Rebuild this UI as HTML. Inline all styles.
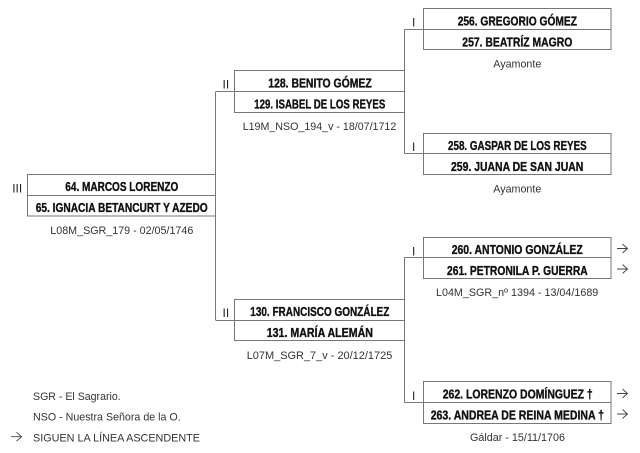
<!DOCTYPE html>
<html><head><meta charset="utf-8"><style>
html,body{margin:0;padding:0;background:#fff;width:640px;height:453px;overflow:hidden}
svg{display:block}
.b{font-family:"Liberation Sans",sans-serif;font-weight:bold;font-size:12.5px;fill:#111;stroke:#111;stroke-width:.35}
.r{font-family:"Liberation Sans",sans-serif;font-size:11px;fill:#333}
.n{stroke:#444;stroke-width:1.1;fill:none}
.l{stroke:#777;stroke-width:1;fill:none}
.a{stroke:#444;stroke-width:.9;fill:none}
</style></head><body>
<svg width="640" height="453" viewBox="0 0 640 453" xmlns="http://www.w3.org/2000/svg">
<g class="l">
<path d="M215.5 174.5H27.5V216H215.5M27.5 195.5H215.5"/>
<path d="M215.5 91.5V320.5"/>
<path d="M404.5 70.5H234.5V112.5H404.5M216 91.5H404.5"/>
<path d="M404.5 299.500H234.5V340.5H404.5M216 320.5H404.5"/>
<path d="M404.5 29.5V153.5M404.5 257.5V402.5"/>
<rect x="423.5" y="8.5" width="187.5" height="41"/><path d="M404.5 29.5H611"/>
<rect x="423.5" y="133.5" width="187.5" height="41"/><path d="M404.5 153.5H611"/>
<rect x="423.5" y="237.5" width="187.5" height="41"/><path d="M404.5 257.5H611"/>
<rect x="423.5" y="381.5" width="187.5" height="42"/><path d="M404.5 402.5H611"/>
</g>
<g class="b">
<text x="65.3" y="191" textLength="113" lengthAdjust="spacingAndGlyphs">64. MARCOS LORENZO</text>
<text x="35.7" y="212" textLength="172" lengthAdjust="spacingAndGlyphs">65. IGNACIA BETANCURT Y AZEDO</text>
<text x="268.3" y="87.5" textLength="103.4" lengthAdjust="spacingAndGlyphs">128. BENITO GÓMEZ</text>
<text x="254.3" y="108.5" textLength="131" lengthAdjust="spacingAndGlyphs">129. ISABEL DE LOS REYES</text>
<text x="250.3" y="316" textLength="139" lengthAdjust="spacingAndGlyphs">130. FRANCISCO GONZÁLEZ</text>
<text x="266.7" y="337" textLength="106.3" lengthAdjust="spacingAndGlyphs">131. MARÍA ALEMÁN</text>
<text x="457.7" y="25.3" textLength="119.3" lengthAdjust="spacingAndGlyphs">256. GREGORIO GÓMEZ</text>
<text x="462.3" y="46.3" textLength="110" lengthAdjust="spacingAndGlyphs">257. BEATRÍZ MAGRO</text>
<text x="448" y="150" textLength="138.7" lengthAdjust="spacingAndGlyphs">258. GASPAR DE LOS REYES</text>
<text x="451" y="171" textLength="132.3" lengthAdjust="spacingAndGlyphs">259. JUANA DE SAN JUAN</text>
<text x="451.7" y="254" textLength="131" lengthAdjust="spacingAndGlyphs">260. ANTONIO GONZÁLEZ</text>
<text x="447" y="275" textLength="140.7" lengthAdjust="spacingAndGlyphs">261. PETRONILA P. GUERRA</text>
<text x="442.7" y="398.7" textLength="150" lengthAdjust="spacingAndGlyphs">262. LORENZO DOMÍNGUEZ †</text>
<text x="430.7" y="419.3" textLength="173.3" lengthAdjust="spacingAndGlyphs">263. ANDREA DE REINA MEDINA †</text>
</g>
<g class="r">
<text x="50.3" y="234" textLength="143" lengthAdjust="spacingAndGlyphs">L08M_SGR_179 - 02/05/1746</text>
<text x="242.7" y="130" textLength="153.6" lengthAdjust="spacingAndGlyphs">L19M_NSO_194_v - 18/07/1712</text>
<text x="246.7" y="359" textLength="145.6" lengthAdjust="spacingAndGlyphs">L07M_SGR_7_v -  20/12/1725</text>
<text x="493.3" y="67.7" textLength="48" lengthAdjust="spacingAndGlyphs">Ayamonte</text>
<text x="493.3" y="192.3" textLength="48" lengthAdjust="spacingAndGlyphs">Ayamonte</text>
<text x="436" y="296" textLength="162.3" lengthAdjust="spacingAndGlyphs">L04M_SGR_nº 1394 - 13/04/1689</text>
<text x="470" y="441" textLength="95" lengthAdjust="spacingAndGlyphs">Gáldar - 15/11/1706</text>
<text x="33" y="400" textLength="87.7" lengthAdjust="spacingAndGlyphs">SGR - El Sagrario.</text>
<text x="33" y="420.7" textLength="147.7" lengthAdjust="spacingAndGlyphs">NSO - Nuestra Señora de la O.</text>
<text x="33" y="441.3" textLength="167" lengthAdjust="spacingAndGlyphs">SIGUEN LA LÍNEA ASCENDENTE</text>
<text x="12.200" y="192.3" style="font-size:12px;fill:#222">III</text>
<text x="222.5" y="88.300" style="font-size:12px;fill:#222">II</text>
<text x="222.5" y="316.800" style="font-size:12px;fill:#222">II</text>
<text x="412" y="26.300" style="font-size:12px;fill:#222">I</text>
<text x="412" y="151" style="font-size:12px;fill:#222">I</text>
<text x="412" y="255.300" style="font-size:12px;fill:#222">I</text>
<text x="412" y="399.800" style="font-size:12px;fill:#222">I</text>
</g>
<g class="a">
<path d="M617 248.5H627.5M622.5 244L627.5 248.5L622.5 253"/>
<path d="M617 269H627.5M622.5 264.5L627.5 269L622.5 273.5"/>
<path d="M617 393.5H627.5M622.5 389L627.5 393.5L622.5 398"/>
<path d="M617 414H627.5M622.5 409.5L627.5 414L622.5 418.5"/>
<path d="M11 436.7H21.5M16.5 432.2L21.5 436.7L16.5 441.2"/>
</g>
</svg>
</body></html>
